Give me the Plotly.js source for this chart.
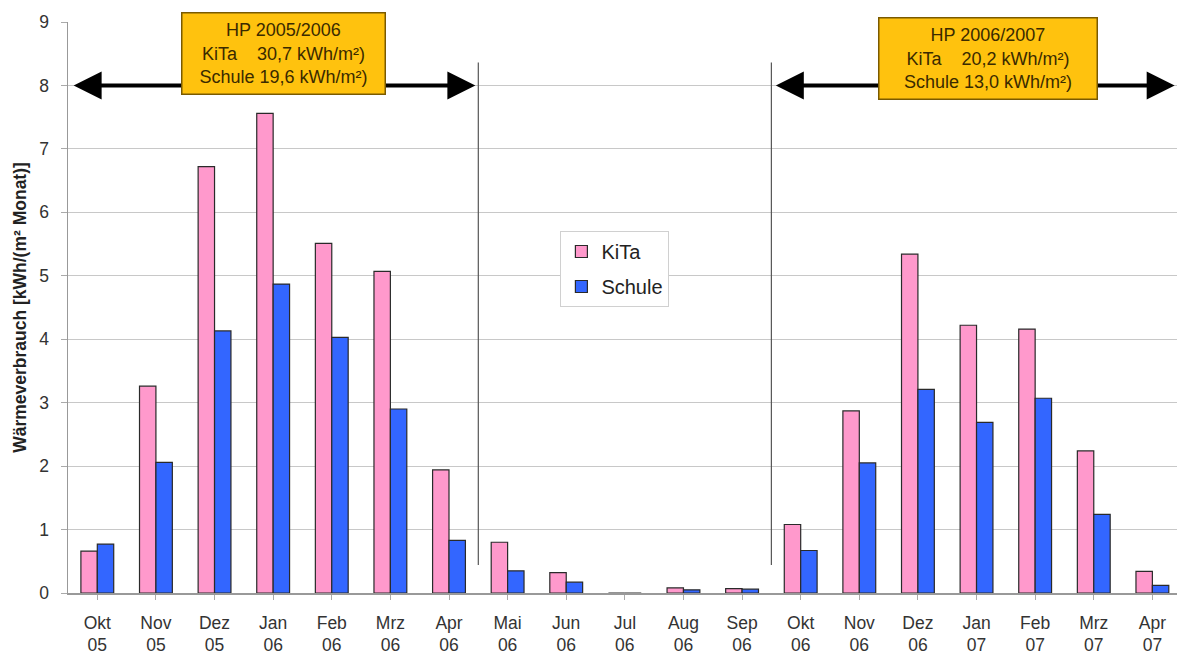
<!DOCTYPE html>
<html>
<head>
<meta charset="utf-8">
<script src="https://cdn.plot.ly/plotly-3.0.1.min.js"></script>
<style>html,body{margin:0;padding:0;background:#fff;}#chart{width:1177px;height:657px;}</style>
</head>
<body>
<div id="chart"></div>
<script>
const months = ["Okt","Nov","Dez","Jan","Feb","Mrz","Apr","Mai","Jun","Jul","Aug","Sep","Okt","Nov","Dez","Jan","Feb","Mrz","Apr"];
const years  = ["05","05","05","06","06","06","06","06","06","06","06","06","06","06","06","07","07","07","07"];
const kita   = [0.66,3.26,6.72,7.56,5.51,5.07,1.94,0.80,0.32,0,0.08,0.07,1.08,2.87,5.34,4.22,4.16,2.24,0.34];
const schule = [0.77,2.06,4.13,4.87,4.03,2.90,0.83,0.35,0.17,0,0.05,0.06,0.67,2.05,3.21,2.69,3.07,1.24,0.12];
const seasonTexts = [
  "HP 2005/2006<br>KiTa\u00a0\u00a0\u00a0\u00a030,7 kWh/m²)<br>Schule 19,6 kWh/m²)",
  "HP 2006/2007<br>KiTa\u00a0\u00a0\u00a0\u00a020,2 kWh/m²)<br>Schule 13,0 kWh/m²)"
];
const labels = months.map((m,i)=>m+"<br>"+years[i]);
const idx = labels.map((_,i)=>i);

const font = "Liberation Sans, Arial, sans-serif";
const traces = [
  {type:"bar", name:"KiTa", legendgroup:"a", x:idx, y:kita, marker:{color:"#FF99CC", line:{color:"#2a2a2a", width:1.2}}},
  {type:"bar", name:"Schule", legendgroup:"b", x:idx, y:schule, marker:{color:"#3366FF", line:{color:"#2a2a2a", width:1.2}}}
];

const layout = {
  width:1177, height:657,
  margin:{l:68, r:0, t:22, b:64},
  paper_bgcolor:"#fff", plot_bgcolor:"#fff",
  font:{family:font, color:"#333"},
  barmode:"group", bargap:0.44, bargroupgap:0,
  showlegend:true,
  legend:{x:0.444, y:0.634, xanchor:"left", yanchor:"top", bgcolor:"#fff", bordercolor:"#d0d0d0", borderwidth:1,
          font:{size:20, family:font, color:"#222"}, tracegroupgap:6, itemwidth:30},
  xaxis:{
    range:[-0.5, 18.42], tickmode:"array", tickvals:idx, ticktext:labels,
    tickfont:{size:17.5, family:font, color:"#333"}, ticklabelstandoff:8,
    showgrid:false, zeroline:false, showline:true, linecolor:"#999", linewidth:1.5,
    ticks:"outside", ticklen:5, tickcolor:"#aaa"
  },
  yaxis:{
    range:[0,9], dtick:1, tickfont:{size:17.5, family:font, color:"#333"}, ticklabelstandoff:8,
    showgrid:true, gridcolor:"#c8c8c8", gridwidth:1.2,
    zeroline:false, showline:true, linecolor:"#999", linewidth:1.5,
    ticks:"outside", ticklen:6, tickcolor:"#aaa",
    title:{text:"<b>Wärmeverbrauch [kWh/(m² Monat)]</b>", font:{size:17.5, family:font, color:"#222"}, standoff:8}
  },
  shapes:[
    {type:"line", xref:"x", yref:"y", x0:6.5, x1:6.5, y0:0.44, y1:8.36, line:{color:"#555", width:1.2}},
    {type:"line", xref:"x", yref:"y", x0:11.5, x1:11.5, y0:0.44, y1:8.36, line:{color:"#555", width:1.2}}
  ],
  annotations:[
    {x:6.45, y:8, xref:"x", yref:"y", ax:-0.43, ay:8, axref:"x", ayref:"y", text:"", showarrow:true,
     arrowhead:2, startarrowhead:2, arrowside:"end+start", arrowsize:1.4, startarrowsize:1.4, arrowwidth:4, arrowcolor:"#000"},
    {x:18.38, y:8, xref:"x", yref:"y", ax:11.55, ay:8, axref:"x", ayref:"y", text:"", showarrow:true,
     arrowhead:2, startarrowhead:2, arrowside:"end+start", arrowsize:1.4, startarrowsize:1.4, arrowwidth:4, arrowcolor:"#000"},
    {x:3.17, y:8.5, xref:"x", yref:"y", text:seasonTexts[0], showarrow:false, align:"center",
     font:{size:18, family:font, color:"#3a2a00"}, bgcolor:"#FFC20E", bordercolor:"#7a5a00", borderwidth:1.5,
     width:198, height:76, borderpad:2},
    {x:15.19, y:8.42, xref:"x", yref:"y", text:seasonTexts[1], showarrow:false, align:"center",
     font:{size:18, family:font, color:"#3a2a00"}, bgcolor:"#FFC20E", bordercolor:"#7a5a00", borderwidth:1.5,
     width:213, height:76, borderpad:2}
  ]
};
Plotly.newPlot("chart", traces, layout, {displayModeBar:false, staticPlot:true});
</script>
</body>
</html>
